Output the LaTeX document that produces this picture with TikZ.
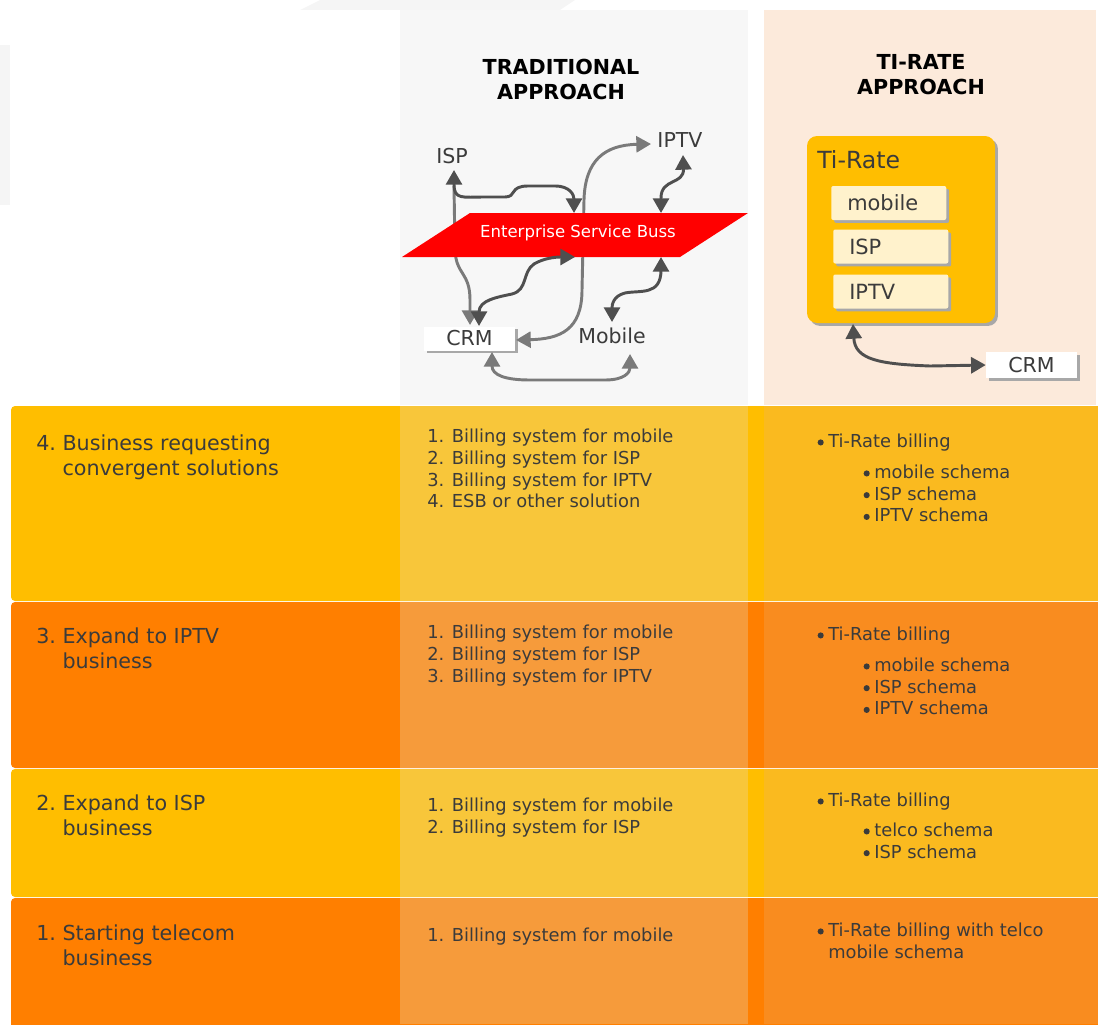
\documentclass[tikz,border=0pt]{standalone}
\usepackage{fontspec}
\setmainfont{DejaVu Sans}
\usetikzlibrary{arrows.meta,shadows}
\definecolor{amber}{HTML}{FFBE00}
\definecolor{orng}{HTML}{FF7F00}
\definecolor{midA}{HTML}{F8C63A}
\definecolor{rightA}{HTML}{FABA1F}
\definecolor{midO}{HTML}{F69B3B}
\definecolor{rightO}{HTML}{F98C1F}
\definecolor{panelgray}{HTML}{F7F7F7}
\definecolor{peach}{HTML}{FCEADB}
\definecolor{faint}{HTML}{F5F5F5}
\definecolor{txt}{HTML}{3B3B3B}
\definecolor{darkarrow}{HTML}{4F4F4F}
\definecolor{medarrow}{HTML}{7A7A7A}
\definecolor{esbred}{HTML}{FF0000}
\definecolor{cream}{HTML}{FFF2CC}
\definecolor{shadowgray}{HTML}{A8A8A8}
\newcommand\bul{\llap{\tikz[baseline=0pt]\fill[txt] (0pt,3.8pt) circle (2.3pt);\hspace{3.4pt}}}
\tikzset{
  lbl/.style={anchor=base west, inner sep=0pt, text=txt, font=\fontsize{15.5}{18.75}\selectfont},
  lst/.style={anchor=base west, inner sep=0pt, text=txt, font=\fontsize{13.4}{16.3}\selectfont},
  head/.style={anchor=base, inner sep=0pt, text=black, font=\bfseries\fontsize{15.5}{18.75}\selectfont},
  dlbl/.style={inner sep=0pt, text=txt, font=\fontsize{15.4}{18}\selectfont},
  boxshadow/.style={drop shadow={shadow xshift=2.2pt, shadow yshift=-2.2pt, fill=shadowgray, opacity=1}},
  crmbox/.style={rectangle, fill=white, boxshadow, inner sep=0pt, minimum width=68.25pt, minimum height=18pt, text=txt, font=\fontsize{15.4}{18}\selectfont},
  schemabox/.style={rectangle, rounded corners=1.5pt, fill=cream, boxshadow, anchor=west, inner xsep=12pt, inner ysep=0pt, text width=62.25pt, align=left, minimum height=25.5pt, text=txt, font=\fontsize{15.7}{18}\selectfont},
  darr/.style={draw=darkarrow, line width=2.2pt, {Triangle[length=11pt,width=12pt]}-{Triangle[length=11pt,width=12pt]}},
  marr/.style={draw=medarrow, line width=2.2pt, {Triangle[length=11pt,width=12pt]}-{Triangle[length=11pt,width=12pt]}},
  marrone/.style={draw=medarrow, line width=2.2pt, -{Triangle[length=11pt,width=12pt]}},
}
\begin{document}
\begin{tikzpicture}[x=0.75pt,y=-0.75pt]
\useasboundingbox (0,0) rectangle (1098,1024);
\clip (0,0) rectangle (1098,1024);
% faint background shapes
\fill[faint] (300,10) -- (320,0) -- (575,0) -- (560,10) -- cycle;
\fill[faint] (0,45) rectangle (10,205);
% column panels
\fill[panelgray] (400,10) rectangle (748,405);
\fill[peach] (764,10) rectangle (1096,405);
% rows
\fill[amber, rounded corners=3] (11,406) rectangle (1120,601);
\fill[orng, rounded corners=3] (11,602) rectangle (1120,768);
\fill[amber, rounded corners=3] (11,769) rectangle (1120,897);
\fill[orng, rounded corners=3] (11,898) rectangle (1120,1040);
\fill[midA] (400,406) rectangle (748,601);
\fill[midO] (400,602) rectangle (748,768);
\fill[midA] (400,769) rectangle (748,897);
\fill[midO] (400,898) rectangle (748,1024);
\fill[rightA] (764,406) rectangle (1098,601);
\fill[rightO] (764,602) rectangle (1098,768);
\fill[rightA] (764,769) rectangle (1098,897);
\fill[rightO] (764,898) rectangle (1098,1024);
% headings
\node[head] (h1) at (561,74.5) {\begin{tabular}[t]{@{}c@{}}TRADITIONAL\\APPROACH\end{tabular}};
\node[head] (h2) at (921,69.5) {\begin{tabular}[t]{@{}c@{}}TI-RATE\\APPROACH\end{tabular}};
% traditional diagram
\node[dlbl] (isp) at (452,156) {ISP};
\node[dlbl] (iptv) at (680,140) {IPTV};
\node[dlbl] (mobile) at (612,336) {Mobile};
\node[crmbox] (crm) at (469.5,338.5) {CRM};
\coordinate (ispTip) at (454,170);
\coordinate (ispStem) at (454,186);
\coordinate (crmTop) at (470,325);
\coordinate (crmTopL) at (479,326);
\coordinate (crmRight) at (516,340);
\coordinate (crmBot) at (492,352);
\coordinate (iptvLeft) at (651,144);
\coordinate (iptvBot) at (683,155);
\coordinate (mobTop) at (612,322);
\coordinate (mobBot) at (630,354);
\coordinate (esbTopA) at (574,213);
\coordinate (esbTopB) at (661,213);
\coordinate (esbBotA) at (575,257);
\coordinate (esbBotB) at (661,257);
% connectors behind the bus
\draw[marrone] (ispStem) -- (455,250) .. controls (456,275) and (470,272) .. (470,300) -- (crmTop);
\draw[marr] (crmRight) .. controls (560,339) and (582,330) .. (582,290) -- (584,200) .. controls (585,160) and (605,145) .. (iptvLeft);
% bus
\fill[esbred] (402,257) -- (470,213) -- (748,213) -- (680,257) -- cycle;
\node[inner sep=0pt, text=white, font=\fontsize{12.4}{14}\selectfont] (esb) at (578,233) {Enterprise Service Buss};
% connectors to the bus
\draw[darr] (ispTip) .. controls (454,200) and (462,197) .. (485,197) -- (505,197) .. controls (517,197) and (509,186) .. (528,186) -- (555,186) .. controls (570,186) and (574,195) .. (esbTopA);
\draw[darr] (crmTopL) .. controls (479,300) and (498,297) .. (512,294) .. controls (528,290) and (522,272) .. (534,264) .. controls (544,258) and (556,257) .. (esbBotA);
\draw[darr] (iptvBot) .. controls (684,185) and (661,178) .. (661,198) -- (esbTopB);
\draw[darr] (esbBotB) -- (661,270) .. controls (661,296) and (640,290) .. (625,293) .. controls (613,296) and (612,305) .. (mobTop);
\draw[marr] (crmBot) .. controls (492,375) and (505,380) .. (530,380) -- (605,380) .. controls (625,380) and (630,372) .. (mobBot);
% Ti-Rate diagram
\node[rectangle, rounded corners=7.5pt, fill=amber, boxshadow, minimum width=141pt, minimum height=140.25pt, inner sep=0pt] (tirate) at (901,229.5) {};
\node[anchor=base west, inner sep=0pt, text=txt, font=\fontsize{17.7}{20}\selectfont] (tiratelbl) at (817,168.5) {Ti-Rate};
\node[schemabox] (smobile) at (831,203) {mobile};
\node[schemabox] (sisp) at (833,246.5) {ISP};
\node[schemabox] (siptv) at (833,291.5) {IPTV};
\node[crmbox, minimum height=19.5pt] (crm2) at (1031.5,365) {CRM};
\coordinate (tiTip) at (853,324);
\draw[darr] (tiTip) .. controls (855,360) and (880,364) .. (930,366) -- (crm2.west);
% row 4
\node[lbl] (r4) at (36,450) {\begin{tabular}[t]{@{}l@{\ }l@{}}4.&Business requesting\\&convergent solutions\end{tabular}};
\node[lst] (m4) at (427,442.6) {\begin{tabular}[t]{@{}l@{}}1. Billing system for mobile\\2. Billing system for ISP\\3. Billing system for IPTV\\4. ESB or other solution\end{tabular}};
\node[lst] (t4) at (828,447.5) {\bul Ti-Rate billing};
\node[lst] (s4) at (874,478.5) {\begin{tabular}[t]{@{}l@{}}\bul mobile schema\\\bul ISP schema\\\bul IPTV schema\end{tabular}};
% row 3
\node[lbl] (r3) at (36,643) {\begin{tabular}[t]{@{}l@{\ }l@{}}3.&Expand to IPTV\\&business\end{tabular}};
\node[lst] (m3) at (427,638.7) {\begin{tabular}[t]{@{}l@{}}1. Billing system for mobile\\2. Billing system for ISP\\3. Billing system for IPTV\end{tabular}};
\node[lst] (t3) at (828,640.5) {\bul Ti-Rate billing};
\node[lst] (s3) at (874,671.5) {\begin{tabular}[t]{@{}l@{}}\bul mobile schema\\\bul ISP schema\\\bul IPTV schema\end{tabular}};
% row 2
\node[lbl] (r2) at (36,810) {\begin{tabular}[t]{@{}l@{\ }l@{}}2.&Expand to ISP\\&business\end{tabular}};
\node[lst] (m2) at (427,811.7) {\begin{tabular}[t]{@{}l@{}}1. Billing system for mobile\\2. Billing system for ISP\end{tabular}};
\node[lst] (t2) at (828,806.5) {\bul Ti-Rate billing};
\node[lst] (s2) at (874,836.5) {\begin{tabular}[t]{@{}l@{}}\bul telco schema\\\bul ISP schema\end{tabular}};
% row 1
\node[lbl] (r1) at (36,940) {\begin{tabular}[t]{@{}l@{\ }l@{}}1.&Starting telecom\\&business\end{tabular}};
\node[lst] (m1) at (427,941.7) {1. Billing system for mobile};
\node[lst] (t1) at (828,936.5) {\begin{tabular}[t]{@{}l@{}}\bul Ti-Rate billing with telco\\mobile schema\end{tabular}};
\end{tikzpicture}
\end{document}
